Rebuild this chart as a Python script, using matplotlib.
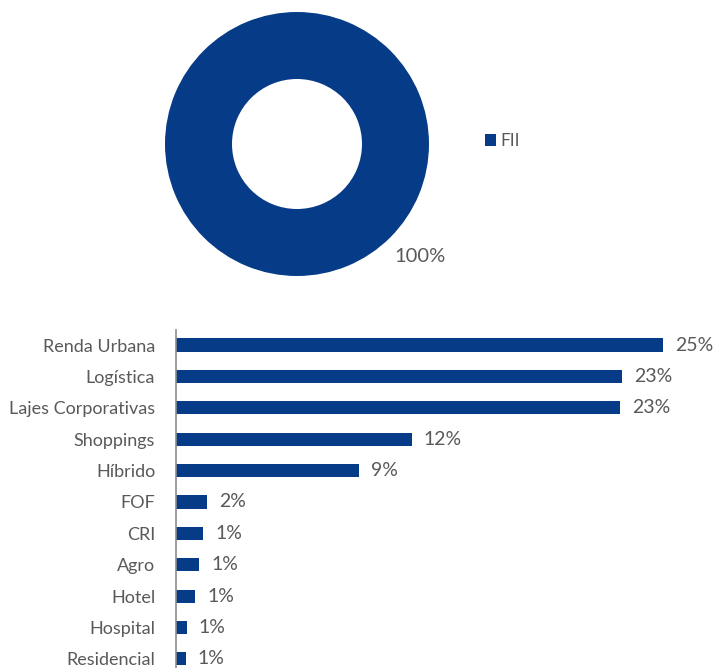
# carteira por tipo de ativo: donut + barras horizontais

import matplotlib
matplotlib.use('Agg')
from matplotlib import pyplot as plt

plt.rcParams['font.family'] = ['Lato', 'DejaVu Sans']

azul = '#063b87'
cinza = '#595959'

# donut
tipos = ['FII']
tipos_pct = [100]
tipos_rotulos = ['100%']

# barras
segmentos = ['Renda Urbana', 'Logística', 'Lajes Corporativas', 'Shoppings',
             'Híbrido', 'FOF', 'CRI', 'Agro', 'Hotel', 'Hospital', 'Residencial']
segmentos_pct = [25.0, 22.9, 22.8, 12.1, 9.4, 1.6, 1.4, 1.2, 1.0, 0.55, 0.5]
segmentos_rotulos = ['25%', '23%', '23%', '12%', '9%', '2%', '1%', '1%', '1%', '1%', '1%']

W, H = 715, 668
fig = plt.figure(figsize=(W/100, H/100), dpi=100)

# --- donut ---
cx, cy, r = 297, 144, 132
ax1 = fig.add_axes([(cx - r)/W, 1 - (cy + r)/H, 2*r/W, 2*r/H])
wedges, _ = ax1.pie(tipos_pct, colors=[azul], radius=1, startangle=90,
                    wedgeprops=dict(width=1 - 65/132, edgecolor='none'))
ax1.set_xlim(-1, 1)
ax1.set_ylim(-1, 1)
ax1.axis('off')
ax1.text((420 - cx)/r, (cy - 256)/r, tipos_rotulos[0], color=cinza,
         fontsize=14.5, ha='center', va='center', clip_on=False)

fig.legend(wedges, tipos, loc='center left', bbox_to_anchor=(485/W, 1 - 141/H),
           frameon=False, handlelength=0.65, handleheight=0.65, handletextpad=0.25,
           borderpad=0, borderaxespad=0, fontsize=12.5, labelcolor=cinza)

# --- barras ---
x0 = 176
px_por_pct = (663 - x0)/25.0
ax2 = fig.add_axes([x0/W, 0, (W - x0)/W, 338/H])
pos = list(range(len(segmentos)))
ax2.barh(pos, segmentos_pct, height=0.42, color=azul)
ax2.set_xlim(0, (W - x0)/px_por_pct)
ax2.set_ylim(10.29, -0.48)

for p, v, lab in zip(pos, segmentos_pct, segmentos_rotulos):
    ax2.text(v + 12/px_por_pct, p, lab, color=cinza, fontsize=14,
             ha='left', va='center')

ax2.set_yticks(pos)
ax2.set_yticklabels(segmentos, color=cinza, fontsize=13)
ax2.tick_params(axis='y', length=0, pad=15)
ax2.set_xticks([])
for lado in ['top', 'right', 'bottom']:
    ax2.spines[lado].set_visible(False)
ax2.spines['left'].set_color('#8c8c8c')
ax2.spines['left'].set_linewidth(1.2)

fig.savefig('out.png', dpi=100)
